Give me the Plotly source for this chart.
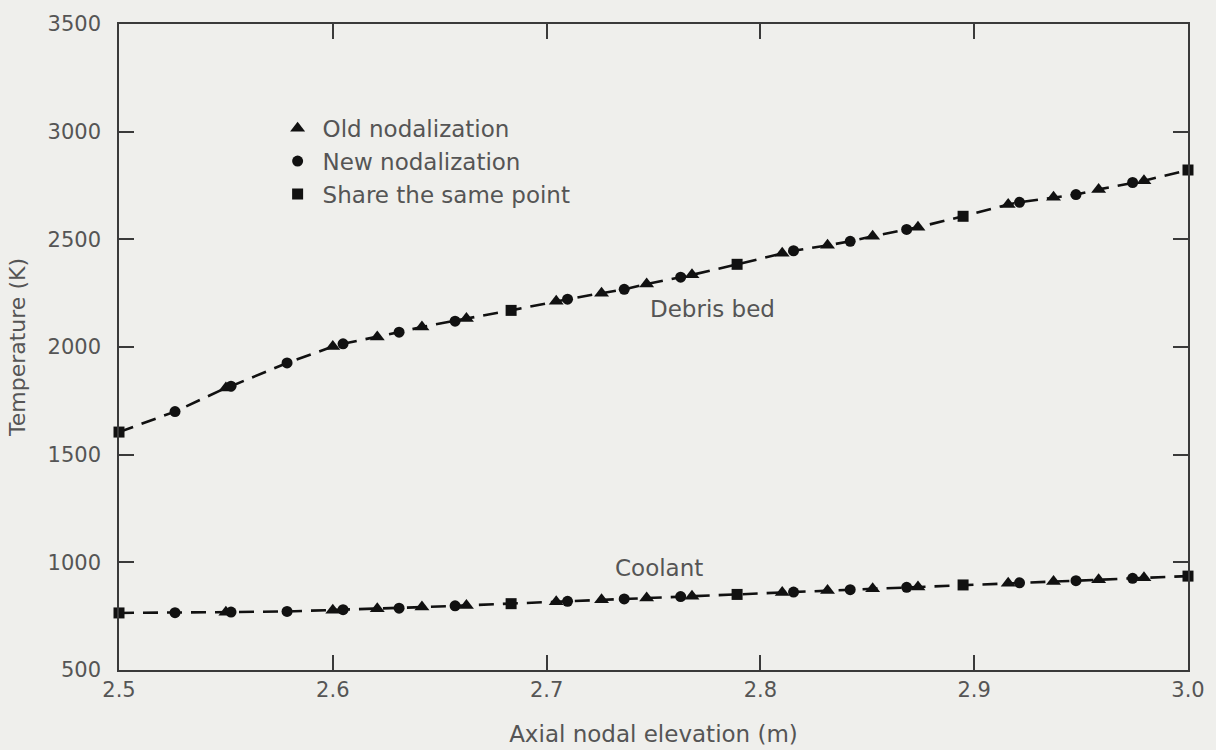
import plotly.graph_objects as go

# ---------------- data ----------------
old_x = [2.55, 2.60, 2.6208, 2.6417, 2.6625, 2.7045, 2.7257, 2.7468, 2.768,
         2.8102, 2.8314, 2.8525, 2.8737, 2.9159, 2.9371, 2.9582, 2.9794]
old_debris = [1810, 2002, 2046, 2093, 2132, 2213, 2250, 2292, 2335,
              2435, 2472, 2514, 2556, 2662, 2695, 2732, 2772]
old_coolant = [768, 778, 785, 792, 800, 817, 826, 834, 843,
               860, 869, 877, 886, 903, 911, 919, 928]

new_x = [2.5262, 2.5524, 2.5786, 2.6048, 2.6310, 2.6572, 2.7098, 2.7363, 2.7627,
         2.8155, 2.8420, 2.8684, 2.9212, 2.9476, 2.9741]
new_debris = [1700, 1818, 1926, 2015, 2069, 2120, 2222, 2268, 2324,
              2447, 2491, 2546, 2672, 2708, 2764]
new_coolant = [766, 769, 772, 780, 787, 798, 819, 830, 841,
               862, 873, 884, 905, 915, 926]

shared_x = [2.5, 2.6834, 2.7891, 2.8948, 3.0]
shared_debris = [1605, 2170, 2384, 2607, 2822]
shared_coolant = [765, 808, 851, 895, 936]

legend_names = ["Old nodalization", "New nodalization", "Share the same point"]
curve_labels = ["Debris bed", "Coolant"]
x_ticks = [2.5, 2.6, 2.7, 2.8, 2.9, 3.0]
x_ticktext = ["2.5", "2.6", "2.7", "2.8", "2.9", "3.0"]
y_ticks = [500, 1000, 1500, 2000, 2500, 3000, 3500]

# ---------------- styles ----------------
INK = "#111111"
AXIS = "#3a3a3a"
TEXT = "#555555"
BG = "#efefec"
FONT = "DejaVu Sans"


def merged(xs_list, ys_list):
    pts = []
    for xs, ys in zip(xs_list, ys_list):
        pts.extend(zip(xs, ys))
    pts.sort()
    return [p[0] for p in pts], [p[1] for p in pts]


fig = go.Figure()

for ys in [(old_debris, new_debris, shared_debris),
           (old_coolant, new_coolant, shared_coolant)]:
    lx, ly = merged([old_x, new_x, shared_x], list(ys))
    fig.add_trace(go.Scatter(
        x=lx, y=ly, mode="lines", showlegend=False, hoverinfo="skip",
        line=dict(color=INK, width=2.6, dash="15px,9px"), cliponaxis=False))

marker_sets = [
    (old_x, old_debris, old_coolant, "triangle-up", 13),
    (new_x, new_debris, new_coolant, "circle", 11),
    (shared_x, shared_debris, shared_coolant, "square", 11),
]
for name, (xs, yd, yc, sym, sz) in zip(legend_names, marker_sets):
    fig.add_trace(go.Scatter(
        x=list(xs) + list(xs), y=list(yd) + list(yc), mode="markers",
        name=name, cliponaxis=False,
        marker=dict(symbol=sym, size=sz, color=INK, line=dict(width=0))))

fig.add_annotation(x=2.7778, y=2176, text=curve_labels[0], showarrow=False,
                   font=dict(size=23, color=TEXT, family=FONT))
fig.add_annotation(x=2.7526, y=975, text=curve_labels[1], showarrow=False,
                   font=dict(size=23, color=TEXT, family=FONT))

axis_common = dict(
    showline=True, linecolor=AXIS, linewidth=1.5, mirror="ticks",
    ticks="inside", ticklen=15, tickwidth=1.5, tickcolor=AXIS,
    showgrid=False, zeroline=False,
    tickfont=dict(size=21, color=TEXT, family=FONT),
)

fig.update_layout(
    width=1216, height=750,
    paper_bgcolor=BG, plot_bgcolor=BG,
    margin=dict(l=119, r=28, t=24, b=80, autoexpand=False),
    font=dict(family=FONT, color=TEXT),
    xaxis=dict(range=[2.5, 3.0], tickvals=x_ticks, ticktext=x_ticktext,
               title=dict(text="Axial nodal elevation (m)", standoff=25,
                          font=dict(size=23, color=TEXT, family=FONT)),
               **axis_common),
    yaxis=dict(range=[500, 3500], tickvals=y_ticks, ticklabelstandoff=12,
               title=dict(text="Temperature (K)", standoff=16,
                          font=dict(size=22, color=TEXT, family=FONT)),
               **axis_common),
    legend=dict(x=0.1437, y=0.872, xanchor="left", yanchor="top",
                bgcolor="rgba(0,0,0,0)", borderwidth=0,
                font=dict(size=23, color=TEXT, family=FONT),
                itemwidth=40, tracegroupgap=0),
    showlegend=True,
)

fig.write_html("out.html")
